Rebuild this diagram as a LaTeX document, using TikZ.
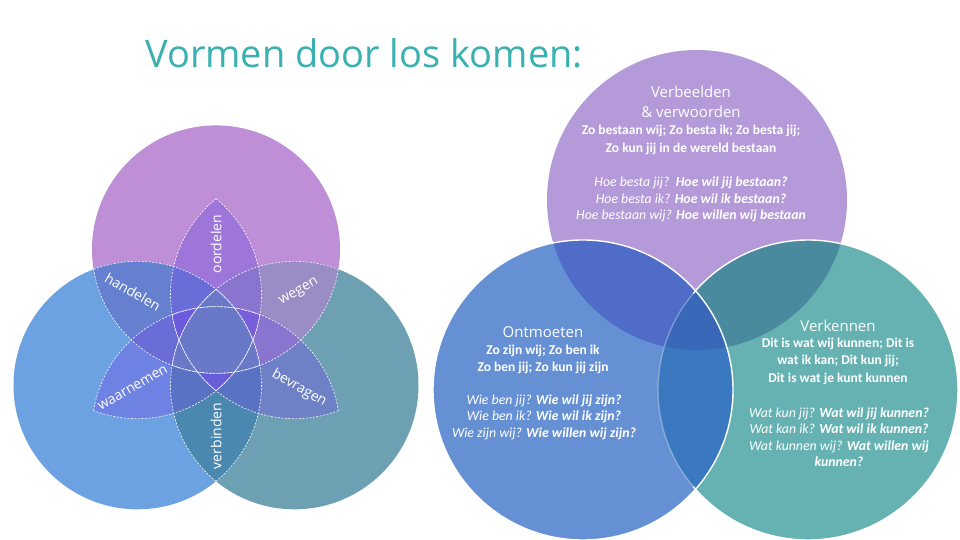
\documentclass[tikz,border=0pt]{standalone}
\usepackage{fontspec}
\setmainfont{Carlito}
\newfontfamily\headfont{Open Sans}
\usetikzlibrary{calc,positioning}

\definecolor{titleteal}{RGB}{58,176,176}
% flower (left)
\definecolor{vtop}{RGB}{190,142,214}
\definecolor{vleft}{RGB}{108,162,226}
\definecolor{vright}{RGB}{110,160,180}
\definecolor{vtopleft}{RGB}{102,128,208}
\definecolor{vtopright}{RGB}{154,140,196}
\definecolor{vleftright}{RGB}{74,136,176}
\definecolor{petalfill}{RGB}{112,82,226}
\definecolor{vcenter}{RGB}{106,120,200}
% venn (right)
\definecolor{ringpurple}{RGB}{180,154,216}
\definecolor{ringblue}{RGB}{102,144,212}
\definecolor{ringteal}{RGB}{102,178,178}
\definecolor{ringpb}{RGB}{79,108,200}
\definecolor{ringpt}{RGB}{74,138,158}
\definecolor{ringbt}{RGB}{58,120,192}
\definecolor{ringpbt}{RGB}{58,104,184}

% one petal, axis along +x, outer tip at (141.3,0)
\newcommand{\petalshape}{(141.3,0) arc[start angle=-39.26, end angle=-140.74, radius=124pt] arc[start angle=140.74, end angle=39.26, radius=124pt] -- cycle}

\begin{document}
\begin{tikzpicture}[x=1pt, y=1pt, line join=round,
  petal/.style={fill=petalfill, fill opacity=0.4},
  petal edge/.style={draw=white, draw opacity=0.85, line width=0.7pt, dash pattern=on 2pt off 1.5pt},
  petal label/.style={text=white, font=\headfont\fontsize{14}{14}\selectfont, inner sep=0pt},
  ring/.style={draw=white, line width=1.4pt},
  heading/.style={text=white, font=\headfont\fontsize{15}{20}\selectfont, align=center, inner sep=0pt},
  statement/.style={text=white, font=\bfseries\fontsize{13.5}{17.5}\selectfont, align=center, inner sep=0pt},
  question/.style={text=white, font=\itshape\fontsize{13.8}{16.5}\selectfont, align=center, inner sep=0pt}]

\fill[white] (0,0) rectangle (960,540);
\useasboundingbox (0,0) rectangle (960,540);

% ---------- Title ----------
\node[anchor=base west, inner sep=0pt, text=titleteal, font=\headfont\fontsize{38}{38}\selectfont] (title) at (145,472) {Vormen door los komen:};

% ---------- Flower: three circles ----------
\coordinate (O) at (216,200);
\coordinate (ctop) at (216,290.6);
\coordinate (cleft) at (137.5,154.7);
\coordinate (cright) at (294.5,154.7);

\fill[vtop] (ctop) circle[radius=124pt];
\fill[vleft] (cleft) circle[radius=124pt];
\fill[vright] (cright) circle[radius=124pt];

% ---------- Flower: petals ----------
\foreach \a/\c in {150/vtopleft, 30/vtopright, 270/vleftright}
  \fill[\c, shift={(O)}, rotate=\a] \petalshape;
\foreach \a in {90,210,330}
  \path[petal, shift={(O)}, rotate=\a] \petalshape;
\begin{scope}
  \clip (ctop) circle[radius=124pt];
  \clip (cleft) circle[radius=124pt];
  \fill[vcenter] (cright) circle[radius=124pt];
\end{scope}
\foreach \a in {30,90,...,330}
  \path[petal edge, shift={(O)}, rotate=\a] \petalshape;

\foreach \ang/\rot/\word in {90/90/oordelen, 150/-30/handelen, 30/30/wegen,
    210/30/waarnemen, 330/-30/bevragen, 270/90/verbinden}
  \node[petal label, rotate=\rot] (\word) at ($(O)+(\ang:96)$) {\word};

% ---------- Venn: three circles ----------
\coordinate (verbeelden-c) at (697,340);
\coordinate (ontmoeten-c) at (583,150);
\coordinate (verkennen-c) at (808,150);

\fill[ringpurple] (verbeelden-c) circle[radius=150pt];
\fill[ringblue] (ontmoeten-c) circle[radius=150pt];
\fill[ringteal] (verkennen-c) circle[radius=150pt];
\begin{scope}
  \clip (ontmoeten-c) circle[radius=150pt];
  \fill[ringbt] (verkennen-c) circle[radius=150pt];
\end{scope}
\begin{scope}
  \clip (verbeelden-c) circle[radius=150pt];
  \fill[ringpb] (ontmoeten-c) circle[radius=150pt];
  \fill[ringpt] (verkennen-c) circle[radius=150pt];
  \clip (ontmoeten-c) circle[radius=150pt];
  \fill[ringpbt] (verkennen-c) circle[radius=150pt];
\end{scope}

% white rims
\draw[ring, draw opacity=0.3] (verkennen-c) ++(139.9:150) arc[start angle=139.9, end angle=220.1, radius=150pt];
\draw[ring] (verkennen-c) ++(-139.9:150) arc[start angle=-139.9, end angle=139.9, radius=150pt];
\draw[ring] (ontmoeten-c) circle[radius=150pt];

% ---------- Venn: texts ----------
\node[heading] (verbeelden) at (691,438) {Verbeelden\\\& verwoorden};
\node[statement] (verbeelden-zo) at (691,400) {Zo bestaan wij; Zo besta ik; Zo besta jij;\\Zo kun jij in de wereld bestaan};
\node[question] (verbeelden-hoe) at (691,340.5) {Hoe besta jij?~~\textbf{Hoe wil jij bestaan?}\\Hoe besta ik? \textbf{Hoe wil ik bestaan?}\\Hoe bestaan wij? \textbf{Hoe willen wij bestaan}};

\node[heading] (ontmoeten) at (543,208) {Ontmoeten};
\node[statement] (ontmoeten-zo) at (543,180.5) {Zo zijn wij; Zo ben ik\\Zo ben jij; Zo kun jij zijn};
\node[question] (ontmoeten-wie) at (544,123) {Wie ben jij? \textbf{Wie wil jij zijn?}\\Wie ben ik? \textbf{Wie wil ik zijn?}\\Wie zijn wij? \textbf{Wie willen wij zijn?}};

\node[heading] (verkennen) at (838,214) {Verkennen};
\node[statement] (verkennen-dit) at (838,179) {Dit is wat wij kunnen; Dit is\\wat ik kan; Dit kun jij;\\Dit is wat je kunt kunnen};
\node[question] (verkennen-wat) at (839,103) {Wat kun jij? \textbf{Wat wil jij kunnen?}\\Wat kan ik? \textbf{Wat wil ik kunnen?}\\Wat kunnen wij? \textbf{Wat willen wij}\\\textbf{kunnen?}};

\end{tikzpicture}
\end{document}
